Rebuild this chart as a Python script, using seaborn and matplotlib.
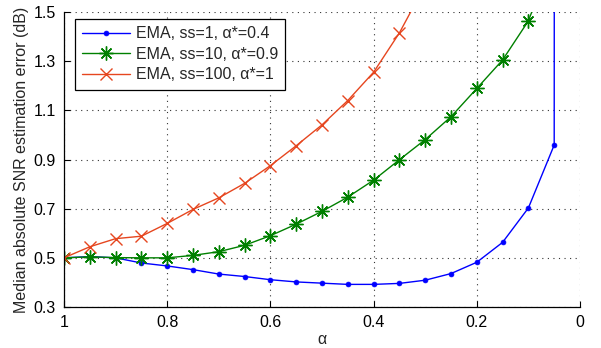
import numpy as np
import pandas as pd
import matplotlib.pyplot as plt
import seaborn as sns

plt.switch_backend('Agg')

# alpha grid
alpha = [1.0, 0.95, 0.9, 0.85, 0.8, 0.75, 0.7, 0.65, 0.6, 0.55, 0.5,
         0.45, 0.4, 0.35, 0.3, 0.25, 0.2, 0.15, 0.1, 0.05]

ss1_alpha = alpha + [0.0495]
ss1_err = [0.50, 0.505, 0.50, 0.479, 0.467, 0.452, 0.434, 0.424, 0.411, 0.402, 0.397,
           0.392, 0.392, 0.396, 0.409, 0.436, 0.482, 0.563, 0.703, 0.959, 3.0]

ss10_alpha = alpha
ss10_err = [0.50, 0.504, 0.501, 0.50, 0.50, 0.51, 0.525, 0.551, 0.59, 0.637, 0.689,
            0.747, 0.816, 0.899, 0.981, 1.074, 1.189, 1.305, 1.464, 1.74]

ss100_alpha = alpha[:15]
ss100_err = [0.50, 0.545, 0.578, 0.588, 0.640, 0.697, 0.744, 0.803, 0.875, 0.956, 1.041,
             1.140, 1.255, 1.415, 1.61]

labels = ['EMA, ss=1, \u03b1*=0.4', 'EMA, ss=10, \u03b1*=0.9', 'EMA, ss=100, \u03b1*=1']
xticks = [1, 0.8, 0.6, 0.4, 0.2, 0]
xticklabels = ['1', '0.8', '0.6', '0.4', '0.2', '0']
yticks = [0.3, 0.5, 0.7, 0.9, 1.1, 1.3, 1.5]

sns.set_style('white')
plt.rcParams['font.family'] = ['Liberation Sans', 'DejaVu Sans']
plt.rcParams['font.size'] = 11

fig = plt.figure(figsize=(6.01, 3.48), dpi=100)
ax = fig.add_axes([64 / 601, 1 - 307 / 348, 516 / 601, 295 / 348])

series = [
    (ss1_alpha, ss1_err, '#0000ff', '.', 7, 0.5),
    (ss10_alpha, ss10_err, '#008000', (8, 2, 0), 10, 1.0),
    (ss100_alpha, ss100_err, '#e6461f', 'x', 8, 1.0),
]
for (xs, ys, col, mk, ms, mew), lab in zip(series, labels):
    sns.lineplot(x=xs, y=ys, ax=ax, color=col, linewidth=1, label=lab, sort=False)
    line = ax.lines[-1]
    line.set_linestyle('-')
    line.set_marker(mk)
    line.set_markersize(ms)
    line.set_markeredgewidth(mew)
    line.set_markerfacecolor(col)
    line.set_markeredgecolor(col)

ax.set_xlim(1, 0)
ax.set_ylim(0.3, 1.5)
ax.set_xticks(xticks)
ax.set_xticklabels(xticklabels)
ax.set_yticks(yticks)
ax.grid(True, linestyle=(0, (1, 4)), color='#333333', linewidth=0.8)
ax.tick_params(direction='in', length=4, width=0.8, colors='black', labelsize=11.5,
               left=True, bottom=True, pad=6)
for side in ['top', 'right']:
    ax.spines[side].set_visible(False)
for side in ['left', 'bottom']:
    ax.spines[side].set_color('black')
    ax.spines[side].set_linewidth(0.9)

ax.set_xlabel('\u03b1', fontsize=11.5, labelpad=1)
ax.set_ylabel('Median absolute SNR estimation error (dB)', fontsize=11.5, labelpad=3)

leg = ax.legend(loc='upper left', bbox_to_anchor=(0.021, 0.976), fancybox=False,
                framealpha=1, edgecolor='black', fontsize=11.5, borderpad=0.45,
                labelspacing=0.35, handlelength=3.0, handletextpad=0.35,
                borderaxespad=0, numpoints=1)
leg.get_frame().set_linewidth(0.9)

fig.savefig('out.png', dpi=100)
